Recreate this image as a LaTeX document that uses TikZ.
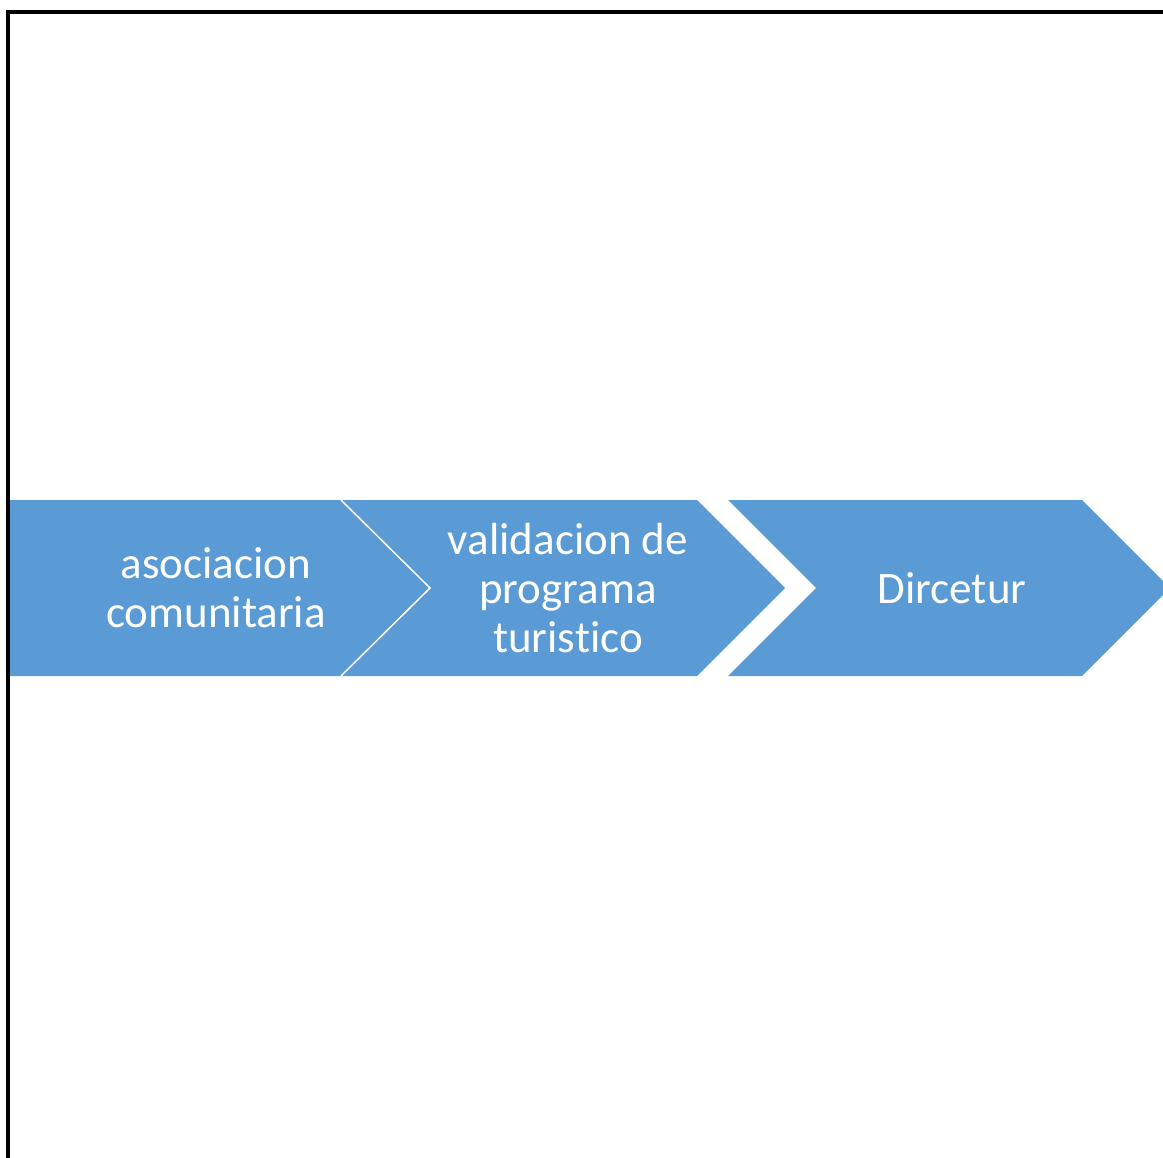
\documentclass[tikz,border=0pt]{standalone}
\usepackage{fontspec}
\setmainfont{Carlito}[RawFeature=-liga]
\definecolor{chevblue}{HTML}{5B9BD5}
\begin{document}
\begin{tikzpicture}[x=1pt,y=-1pt,
  lbl/.style={text=white,align=center,font=\fontsize{45}{49}\selectfont,inner sep=0pt},
  band/.style={fill=chevblue,draw=none}]
\useasboundingbox (0,0) rectangle (1163,1158);
% chevron shapes
\path[band] (9,500) -- (341,500) -- (430,588) -- (341,676) -- (9,676) -- cycle;
\path[band] (341,500) -- (697,500) -- (785,588) -- (697,676) -- (341,676) -- (430,588) -- cycle;
\path[band] (728,500) -- (1082,500) -- (1170,588) -- (1082,676) -- (728,676) -- (816,588) -- cycle;
\draw[white,line width=1.5pt] (341,500) -- (430,588) -- (341,676);
% frame
\draw[black,line width=4pt] (7.5,1170) -- (7.5,12) -- (1175,12);
% labels
\node[lbl] (t1) at (216,588) {asociacion\\comunitaria};
\node[lbl] (t2) at (568,588) {validacion de\\programa\\turistico};
\node[lbl] (t3) at (952,588) {Dircetur};
\end{tikzpicture}
\end{document}
